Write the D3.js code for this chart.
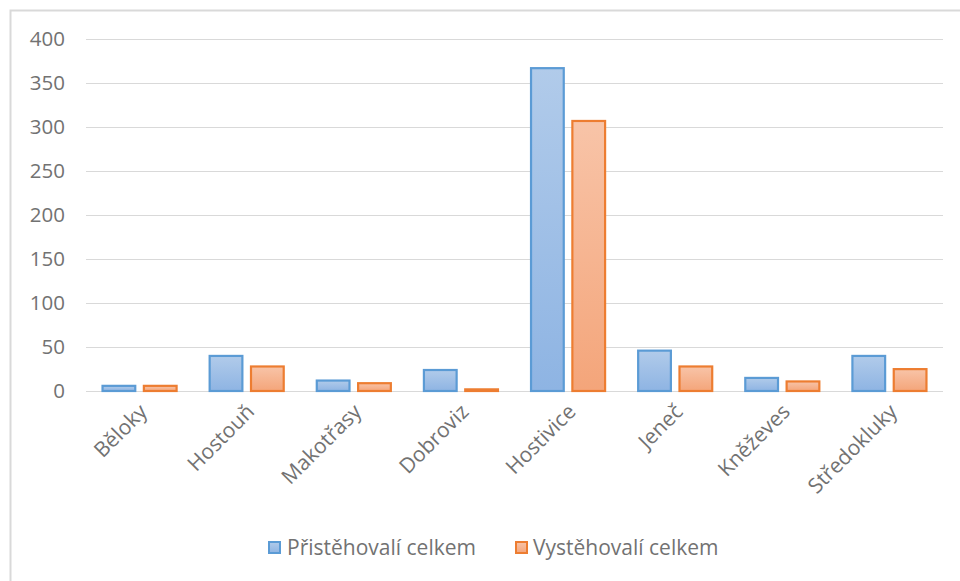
<!DOCTYPE html>
<html><head><meta charset="utf-8">
<script src="https://cdn.jsdelivr.net/npm/d3@7"></script>
<style>body{margin:0;background:#fff}svg{display:block}text{font-family:"Open Sans",Lato,sans-serif}</style>
</head><body><svg id="c" width="960" height="581"></svg>
<script>
const categories = ["Běloky","Hostouň","Makotřasy","Dobroviz","Hostivice","Jeneč","Kněževes","Středokluky"];
const seriesNames = ["Přistěhovalí celkem","Vystěhovalí celkem"];
const prist = [7,41,13,25,368,47,16,41];
const vyst = [7,29,10,3,308,29,12,26];
const yTicks = [0,50,100,150,200,250,300,350,400];

const svg = d3.select("#c");
const W=960,H=581;
svg.append("rect").attr("x",10.5).attr("y",10.5).attr("width",W).attr("height",H).attr("fill","#fff").attr("stroke","#d9d9d9").attr("stroke-width",2);

const defs = svg.append("defs");
const grads = [["gB","#b1cbea","#8eb4e3"],["gO","#f8c4a8","#f4a57a"]];
grads.forEach(([id,a,b])=>{
  const g=defs.append("linearGradient").attr("id",id).attr("x1",0).attr("y1",0).attr("x2",0).attr("y2",1);
  g.append("stop").attr("offset","0%").attr("stop-color",a);
  g.append("stop").attr("offset","100%").attr("stop-color",b);
});
const strokes=["#5b9bd5","#ed7d31"];

const x0 = d3.scaleBand().domain(categories).range([86,943]).paddingInner(0.29).paddingOuter(0.145);
const x1 = d3.scaleBand().domain(seriesNames).range([0,x0.bandwidth()]).paddingInner(0.16);
const y = d3.scaleLinear().domain([0,400]).range([391,39]);

// grid
const yAxis = d3.axisLeft(y).tickValues(yTicks).tickSize(-(943-86)).tickPadding(21);
const ga = svg.append("g").attr("transform","translate(86,0)").call(yAxis);
ga.select(".domain").remove();
ga.selectAll(".tick line").attr("stroke","#d9d9d9").attr("stroke-width",1.2);
ga.selectAll(".tick text").attr("fill","#727272").attr("font-size",20.5).attr("dy","0.34em");

const data = categories.map((c,i)=>({c,vals:[prist[i],vyst[i]]}));
const grp = svg.append("g").selectAll("g").data(data).join("g").attr("transform",d=>`translate(${x0(d.c)},0)`);
grp.selectAll("rect").data(d=>d.vals.map((v,j)=>({v,j}))).join("rect")
  .attr("x",d=>x1(seriesNames[d.j])+1).attr("width",x1.bandwidth()-2)
  .attr("y",d=>y(d.v)+1).attr("height",d=>Math.max(0,y(0)-y(d.v)-1))
  .attr("fill",d=>d.j===0?"url(#gB)":"url(#gO)")
  .attr("stroke",d=>strokes[d.j]).attr("stroke-width",2.2);

// x labels
const xAxis = d3.axisBottom(x0).tickSize(0).tickPadding(0);
const gx = svg.append("g").attr("transform","translate(0,391)").call(xAxis);
gx.select(".domain").remove();
gx.selectAll(".tick text").attr("fill","#727272").attr("font-size",21)
  .attr("text-anchor","end").attr("dy",0)
  .attr("transform","translate(9,22) rotate(-45)");

// legend
const leg = [[268,287],[515,533]];
seriesNames.forEach((s,i)=>{
  svg.append("rect").attr("x",leg[i][0]+1).attr("y",542).attr("width",11).attr("height",11)
    .attr("fill",i===0?"url(#gB)":"url(#gO)").attr("stroke",strokes[i]).attr("stroke-width",2);
  svg.append("text").attr("x",leg[i][1]).attr("y",555).attr("fill","#727272").attr("font-size",21).text(s);
});
</script></body></html>
